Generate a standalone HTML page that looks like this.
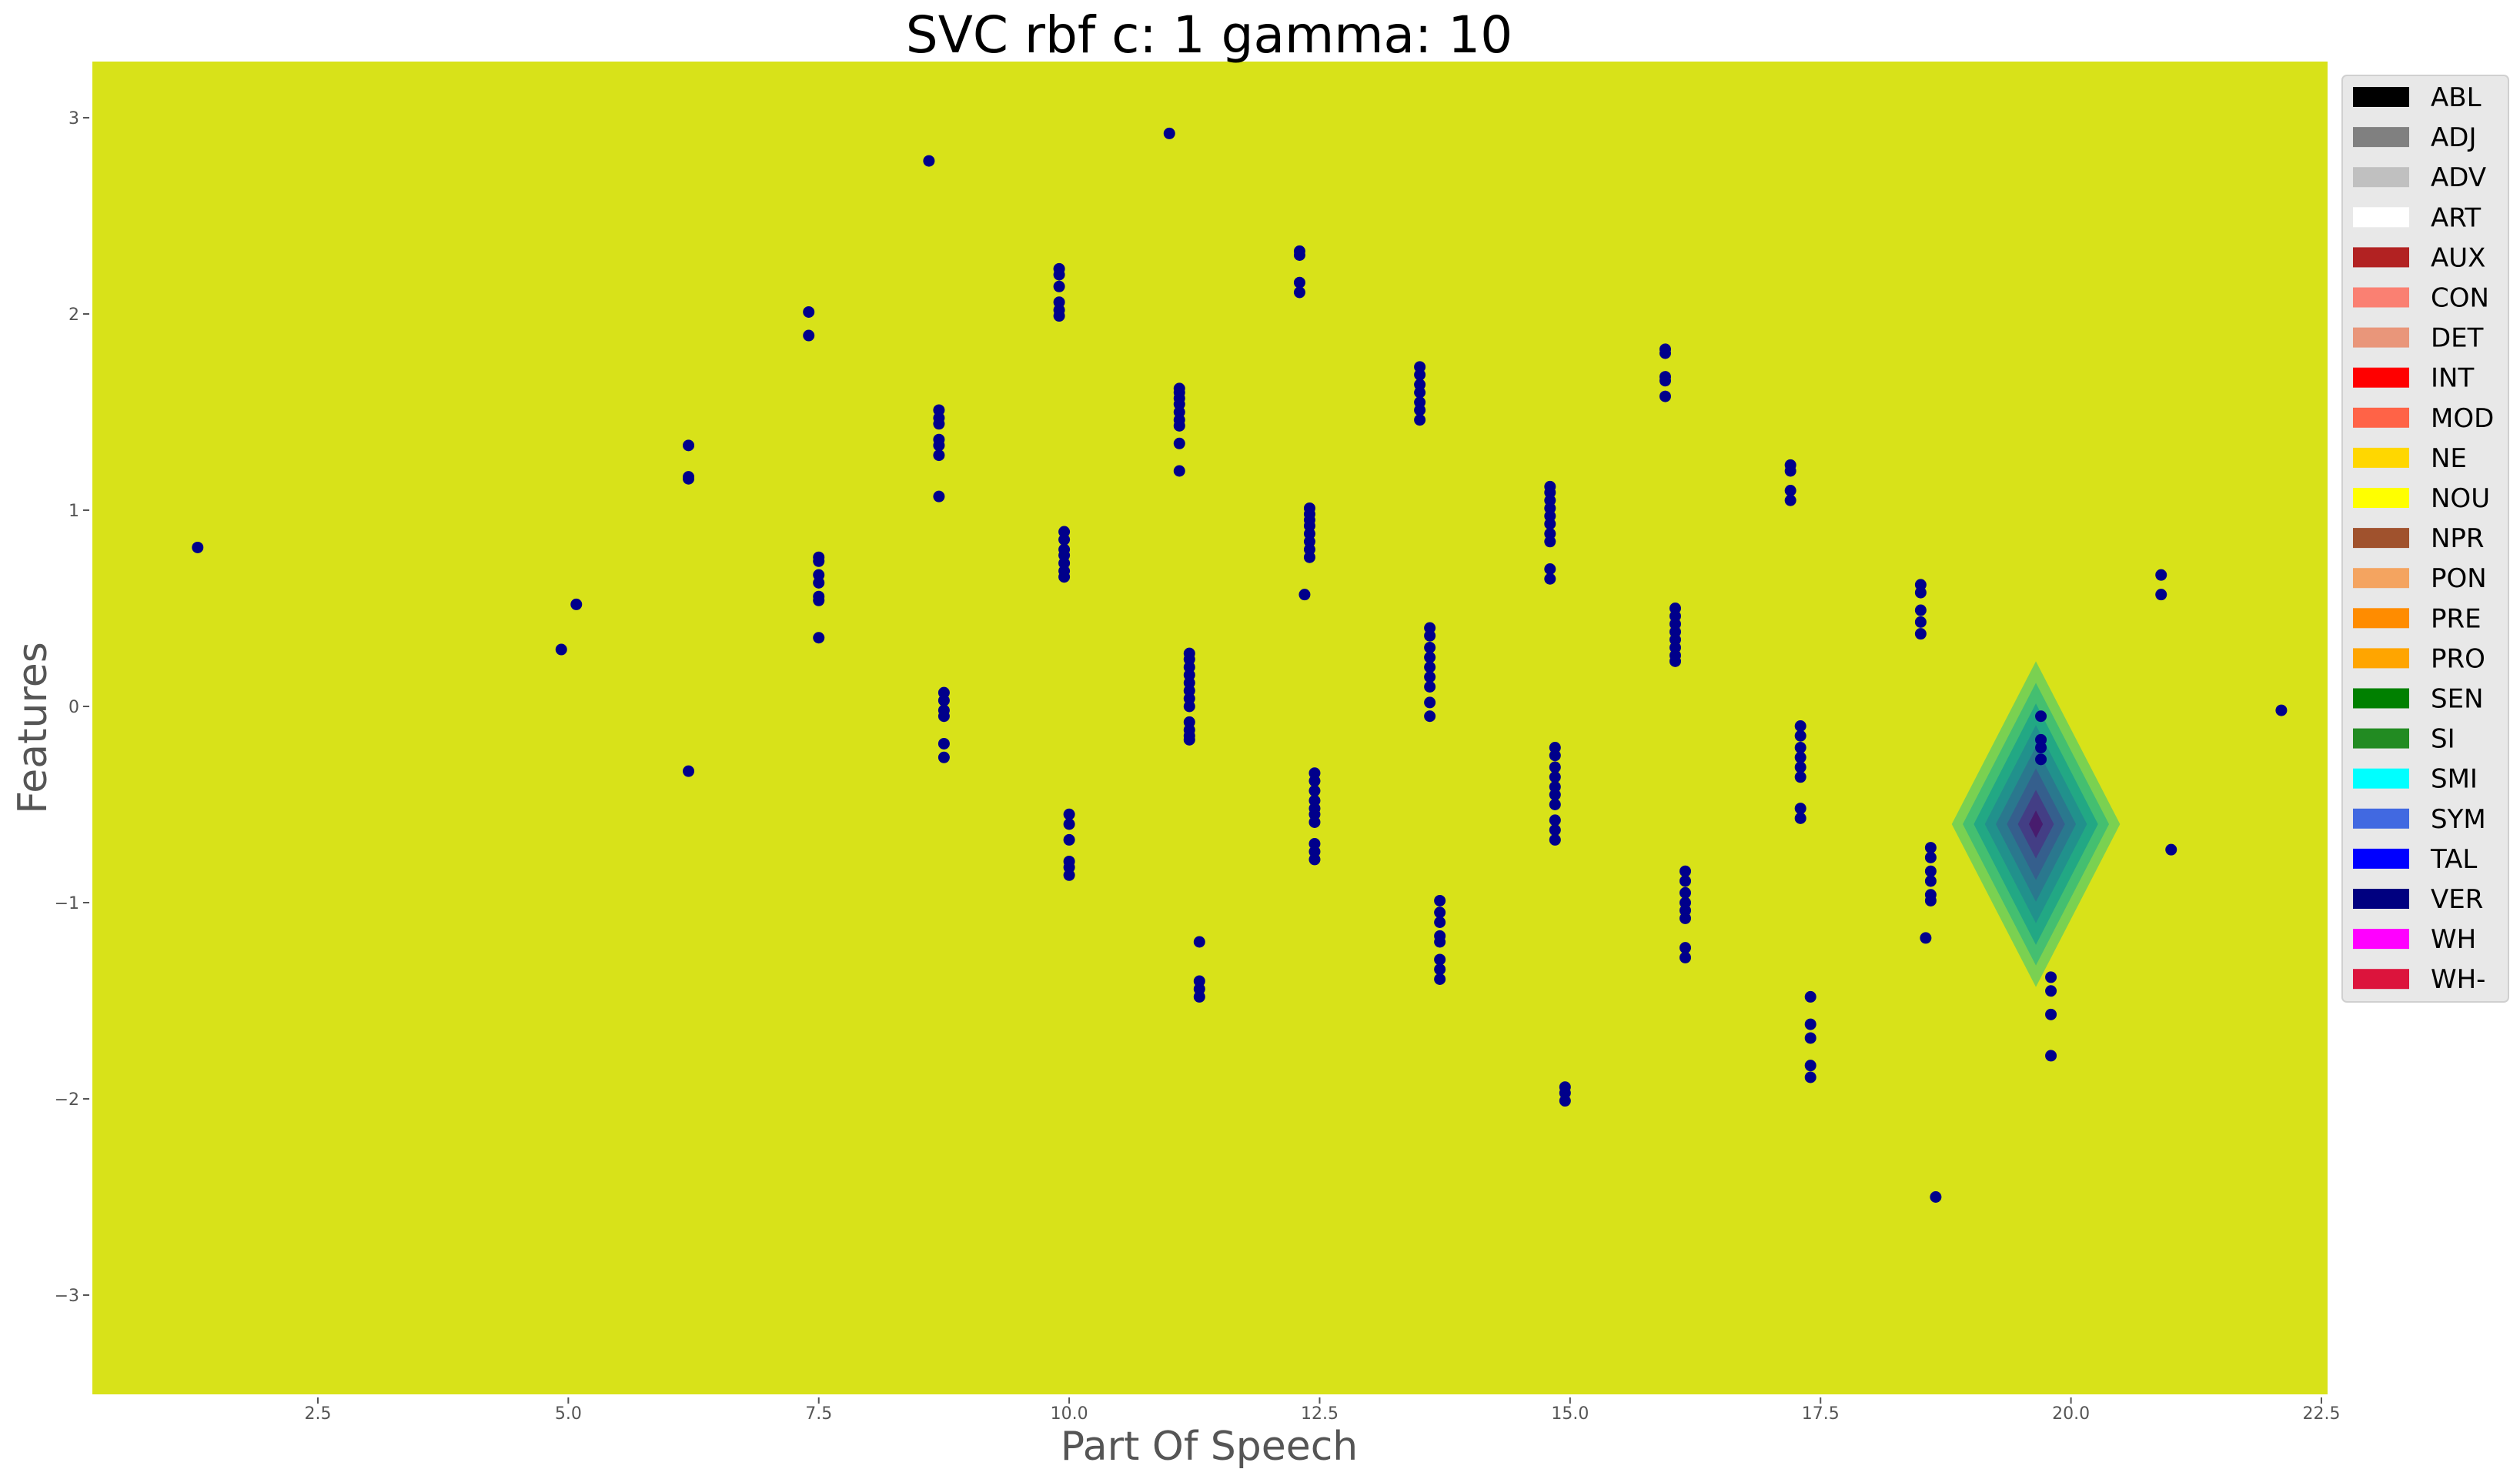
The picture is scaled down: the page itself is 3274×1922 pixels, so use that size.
<!DOCTYPE html>
<html><head><meta charset="utf-8"><style>
html,body{margin:0;padding:0;background:#fff;}
svg{display:block;font-family:"DejaVu Sans","Liberation Sans",sans-serif;}
</style></head><body>
<svg id="chart" width="3274" height="1922" viewBox="0 0 3274 1922" xmlns="http://www.w3.org/2000/svg">
<rect x="120" y="80" width="2904" height="1732" fill="#d8e219"/>
<g id="contours"></g>
<g id="points"></g>
<g id="xticks"></g>
<g id="yticks"></g>
<text x="1571" y="68" font-size="66" text-anchor="middle" fill="#000">SVC rbf c: 1 gamma: 10</text>
<text x="1571" y="1897" font-size="52" text-anchor="middle" fill="#555">Part Of Speech</text>
<text x="0" y="0" font-size="52" text-anchor="middle" fill="#555" transform="translate(60,946) rotate(-90)">Features</text>
<rect x="3043" y="98" width="216" height="1204" rx="6" fill="#e8e8e8" stroke="#d0d0d0" stroke-width="2"/>
<g id="legend"></g>
</svg>
<script>
const xTicks = [2.5, 5.0, 7.5, 10.0, 12.5, 15.0, 17.5, 20.0, 22.5];
const yTicks = [-3, -2, -1, 0, 1, 2, 3];
const legendLabels = ["ABL","ADJ","ADV","ART","AUX","CON","DET","INT","MOD","NE","NOU","NPR","PON","PRE","PRO","SEN","SI","SMI","SYM","TAL","VER","WH","WH-"];
const legendColors = ["#000000","#808080","#c0c0c0","#ffffff","#b22222","#fa8072","#e9967a","#ff0000","#ff6347","#ffd700","#ffff00","#a0522d","#f4a460","#ff8c00","#ffa500","#008000","#228b22","#00ffff","#4169e1","#0000ff","#000080","#ff00ff","#dc143c"];
const contourCenter = [19.65, -0.6];
const contourHalfWidths = [0.84, 0.73, 0.62, 0.51, 0.40, 0.29, 0.18, 0.07];
const contourHalfHeights = [0.83, 0.72, 0.615, 0.505, 0.395, 0.285, 0.175, 0.07];
const contourColors = ["#7ad151","#44bf70","#22a884","#21918c","#2a788e","#355f8d","#433e85","#481c6e"];
const pointsX = [1.3, 4.93,5.08, 6.2,6.2,6.2,6.2, 7.4,7.4, 7.5,7.5,7.5,7.5,7.5,7.5,7.5,
 8.6, 8.7,8.7,8.7,8.7,8.7,8.7,8.7, 8.75,8.75,8.75,8.75,8.75,8.75,
 9.9,9.9,9.9,9.9,9.9,9.9, 9.95,9.95,9.95,9.95,9.95,9.95,9.95, 10.0,10.0,10.0,10.0,10.0,10.0,
 11.0, 11.1,11.1,11.1,11.1,11.1,11.1,11.1,11.1,11.1, 11.2,11.2,11.2,11.2,11.2,11.2,11.2,11.2,11.2,11.2,11.2,11.2, 11.3,11.3,11.3,11.3,
 12.3,12.3,12.3,12.3, 12.4,12.4,12.4,12.4,12.4,12.4,12.4,12.4,12.35, 12.45,12.45,12.45,12.45,12.45,12.45,12.45,12.45,12.45,12.45,
 13.5,13.5,13.5,13.5,13.5,13.5,13.5, 13.6,13.6,13.6,13.6,13.6,13.6,13.6,13.6,13.6, 13.7,13.7,13.7,13.7,13.7,13.7,13.7,13.7,
 14.8,14.8,14.8,14.8,14.8,14.8,14.8,14.8,14.8,14.8, 14.85,14.85,14.85,14.85,14.85,14.85,14.85,14.85,14.85,14.85, 14.95,14.95,14.95,
 15.95,15.95,15.95,15.95,15.95, 16.05,16.05,16.05,16.05,16.05,16.05,16.05,16.05, 16.15,16.15,16.15,16.15,16.15,16.15,16.15,16.15,
 17.2,17.2,17.2,17.2, 17.3,17.3,17.3,17.3,17.3,17.3,17.3,17.3, 17.4,17.4,17.4,17.4,17.4,
 18.5,18.5,18.5,18.5,18.5, 18.6,18.6,18.6,18.6,18.6,18.6,18.55, 18.65,
 19.7,19.7,19.7,19.7, 19.8,19.8,19.8,19.8, 20.9,20.9, 21.0, 22.1];
const pointsY = [0.81, 0.29,0.52, 1.33,1.17,1.16,-0.33, 2.01,1.89, 0.76,0.74,0.67,0.63,0.56,0.54,0.35,
 2.78, 1.51,1.47,1.44,1.36,1.33,1.28,1.07, 0.07,0.03,-0.02,-0.05,-0.19,-0.26,
 2.23,2.2,2.14,2.06,2.02,1.99, 0.89,0.85,0.8,0.77,0.73,0.69,0.66, -0.55,-0.6,-0.68,-0.79,-0.82,-0.86,
 2.92, 1.62,1.6,1.57,1.54,1.5,1.46,1.43,1.34,1.2, 0.27,0.24,0.2,0.16,0.12,0.08,0.04,0.0,-0.08,-0.12,-0.15,-0.17, -1.2,-1.4,-1.44,-1.48,
 2.32,2.3,2.16,2.11, 1.01,0.98,0.95,0.92,0.88,0.84,0.8,0.76,0.57, -0.34,-0.38,-0.43,-0.48,-0.52,-0.55,-0.59,-0.7,-0.74,-0.78,
 1.73,1.69,1.64,1.6,1.55,1.51,1.46, 0.4,0.36,0.3,0.25,0.2,0.15,0.1,0.02,-0.05, -0.99,-1.05,-1.1,-1.17,-1.2,-1.29,-1.34,-1.39,
 1.12,1.09,1.05,1.01,0.97,0.93,0.88,0.84,0.7,0.65, -0.21,-0.25,-0.31,-0.36,-0.41,-0.45,-0.5,-0.58,-0.63,-0.68, -1.94,-1.97,-2.01,
 1.82,1.8,1.68,1.66,1.58, 0.5,0.46,0.42,0.38,0.34,0.3,0.26,0.23, -0.84,-0.89,-0.95,-1.0,-1.04,-1.08,-1.23,-1.28,
 1.23,1.2,1.1,1.05, -0.1,-0.15,-0.21,-0.26,-0.31,-0.36,-0.52,-0.57, -1.48,-1.62,-1.69,-1.83,-1.89,
 0.62,0.58,0.49,0.43,0.37, -0.72,-0.77,-0.84,-0.89,-0.96,-0.99,-1.18, -2.5,
 -0.05,-0.17,-0.21,-0.27, -1.38,-1.45,-1.57,-1.78, 0.67,0.57, -0.73, -0.02];

const NS = "http://www.w3.org/2000/svg";
const X0 = 120, X1 = 3024, Y0 = 80, Y1 = 1812;
const xMin = (X0 - 87.6) / 130.15, xMax = (X1 - 87.6) / 130.15;
const yMax = (918 - Y0) / 255, yMin = (918 - Y1) / 255;
function sx(v){ return X0 + (v - xMin) / (xMax - xMin) * (X1 - X0); }
function sy(v){ return Y1 - (v - yMin) / (yMax - yMin) * (Y1 - Y0); }
function mk(tag, attrs, parent){ const e = document.createElementNS(NS, tag); for (const k in attrs) e.setAttribute(k, attrs[k]); parent.appendChild(e); return e; }

const cg = document.getElementById('contours');
contourColors.forEach((c, i) => {
  const cx = contourCenter[0], cy = contourCenter[1];
  const w = contourHalfWidths[i], h = contourHalfHeights[i];
  const pts = [[cx, cy + h], [cx + w, cy], [cx, cy - h], [cx - w, cy]].map(p => sx(p[0]) + ',' + sy(p[1])).join(' ');
  const p = mk('polygon', {points: pts, fill: c}, cg);
  
  
});

const pg = document.getElementById('points');
pointsX.forEach((x, i) => {
  const c = mk('circle', {cx: sx(x), cy: sy(pointsY[i]), r: 7.5, fill: '#00008b'}, pg);
  
  
});

const xg = document.getElementById('xticks');
xTicks.forEach(t => {
  const x = sx(t);
  const l = mk('line', {x1: x, x2: x, y1: Y1 + 4, y2: Y1 + 12, stroke: '#555', 'stroke-width': 2}, xg);
  
  
  const tx = mk('text', {x: x, y: Y1 + 32, 'font-size': 22, 'text-anchor': 'middle', fill: '#555'}, xg);
  tx.textContent = t.toFixed(1);
  
  
});

const yg = document.getElementById('yticks');
yTicks.forEach(t => {
  const y = sy(t);
  const l = mk('line', {x1: X0 - 12, x2: X0 - 4, y1: y, y2: y, stroke: '#555', 'stroke-width': 2}, yg);
  
  
  const tx = mk('text', {x: X0 - 17, y: y + 8, 'font-size': 22, 'text-anchor': 'end', fill: '#555'}, yg);
  tx.textContent = t < 0 ? '\u2212' + Math.abs(t) : String(t);
  
  
});

const lg = document.getElementById('legend');
legendLabels.forEach((lab, i) => {
  const cy = 126 + i * 52.1;
  const r = mk('rect', {x: 3057, y: cy - 13, width: 73, height: 26, fill: legendColors[i]}, lg);
  
  
  const t = mk('text', {x: 3158, y: cy + 12, 'font-size': 34, fill: '#000'}, lg);
  t.textContent = lab;
  
  
});
</script>
</body></html>
